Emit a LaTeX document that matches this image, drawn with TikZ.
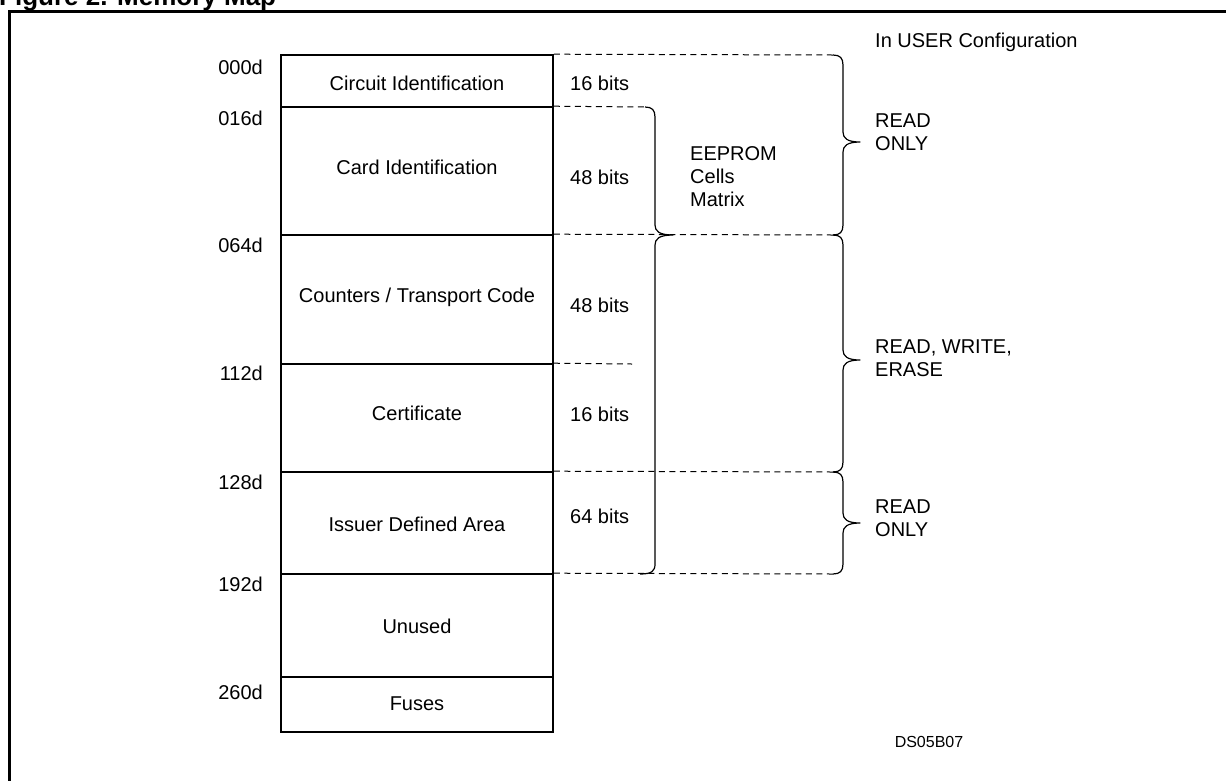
\documentclass[tikz,border=0pt]{standalone}
\usepackage{fontspec}
\setmainfont{Liberation Sans}
\begin{document}
\begin{tikzpicture}[x=1pt,y=-1pt,
  lbl/.style={inner sep=0pt, font=\fontsize{20pt}{23pt}\selectfont, text height=14.3pt, text depth=0pt},
  mlbl/.style={inner sep=0pt, align=left, anchor=west, font=\fontsize{20pt}{23pt}\selectfont},
  row/.style={draw, line width=1.6pt, minimum width=272pt, inner sep=0pt},
  dl/.style={dash pattern=on 6pt off 4.5pt, line width=1pt},
  br/.style={line width=1.2pt, line join=round}]
\useasboundingbox (0,0) rectangle (1226,780);
% title and frame
\node[anchor=base west, inner sep=0pt, font=\fontsize{26pt}{30pt}\selectfont\bfseries] (title) at (-1,5) {Figure 2. Memory Map};
\draw[line width=3pt] (1240,11) -- (9,11) -- (9,800);
% memory rows
\node[row, minimum height=52pt]  (r1) at (417,81) {};
\node[row, minimum height=128pt] (r2) at (417,171) {};
\node[row, minimum height=129pt] (r3) at (417,299.5) {};
\node[row, minimum height=108pt] (r4) at (417,418) {};
\node[row, minimum height=102pt] (r5) at (417,523) {};
\node[row, minimum height=103pt] (r6) at (417,625.5) {};
\node[row, minimum height=55pt]  (r7) at (417,704.5) {};
% row texts
\node[lbl] (t1) at (417,83)  {Circuit Identification};
\node[lbl] (t2) at (417,167) {Card Identification};
\node[lbl] (t3) at (417,295) {Counters / Transport Code};
\node[lbl] (t4) at (417,413) {Certificate};
\node[lbl] (t5) at (417,524) {Issuer Defined Area};
\node[lbl] (t6) at (417,626) {Unused};
\node[lbl] (t7) at (417,703) {Fuses};
% addresses
\node[lbl, anchor=east] (ad0) at (263,67)  {000d};
\node[lbl, anchor=east] (ad1) at (263,118) {016d};
\node[lbl, anchor=east] (ad2) at (263,245) {064d};
\node[lbl, anchor=east] (ad3) at (263,373) {112d};
\node[lbl, anchor=east] (ad4) at (263,482) {128d};
\node[lbl, anchor=east] (ad5) at (263,584) {192d};
\node[lbl, anchor=east] (ad6) at (263,692) {260d};
% bit counts
\node[lbl, anchor=west] (b1) at (570,83)  {16 bits};
\node[lbl, anchor=west] (b2) at (570,177) {48 bits};
\node[lbl, anchor=west] (b3) at (570,305) {48 bits};
\node[lbl, anchor=west] (b4) at (570,414) {16 bits};
\node[lbl, anchor=west] (b5) at (570,516) {64 bits};
% coordinates for dashed lines
\coordinate (a1) at (833,55);
\coordinate (a2) at (833,235);
\coordinate (a3) at (833,472);
\coordinate (a4) at (833,574);
\coordinate (e1) at (645,107);
\coordinate (e2) at (640,574);
\coordinate (c4) at (632,364);
% dashed lines
\draw[dl] (r1.north east) -- (a1);
\draw[dl] (r2.north east) -- (e1);
\draw[dl] (r3.north east) -- (a2);
\draw[dl] (r4.north east) -- (c4);
\draw[dl] (r5.north east) -- (a3);
\draw[dl] (r6.north east) -- (a4);
% EEPROM brace
\draw[br] (e1) .. controls (652,107) and (655,110) .. (655,117) -- (655,225)
  .. controls (655,231) and (659,235) .. (673,235)
  .. controls (659,235) and (655,239) .. (655,245) -- (655,564)
  .. controls (655,571) and (652,574) .. (e2);
% right braces
\draw[br] (a1) .. controls (840,55) and (843,58) .. (843,65) -- (843,132)
  .. controls (843,138) and (847,142) .. (860,142)
  .. controls (847,142) and (843,146) .. (843,152) -- (843,225)
  .. controls (843,232) and (840,235) .. (a2);
\draw[br] (a2) .. controls (840,235) and (843,238) .. (843,245) -- (843,350)
  .. controls (843,356) and (847,360) .. (860,360)
  .. controls (847,360) and (843,364) .. (843,370) -- (843,462)
  .. controls (843,469) and (840,472) .. (a3);
\draw[br] (a3) .. controls (840,472) and (843,475) .. (843,482) -- (843,513)
  .. controls (843,519) and (847,523) .. (860,523)
  .. controls (847,523) and (843,527) .. (843,533) -- (843,564)
  .. controls (843,571) and (840,574) .. (a4);
% side texts
\node[mlbl] (eep) at (690,177) {\fontsize{20pt}{25pt}\selectfont EEPROM\\Cells\\Matrix};
\node[lbl, anchor=west] (cfg) at (875,40) {In USER Configuration};
\node[mlbl] (ro1) at (875,132) {READ\\ONLY};
\node[mlbl] (rwe) at (875,358.5) {READ, WRITE,\\ERASE};
\node[mlbl] (ro2) at (875,518.5) {READ\\ONLY};
\node[inner sep=0pt, font=\fontsize{16pt}{19pt}\selectfont] (ds) at (929,742) {DS05B07};
\end{tikzpicture}
\end{document}
